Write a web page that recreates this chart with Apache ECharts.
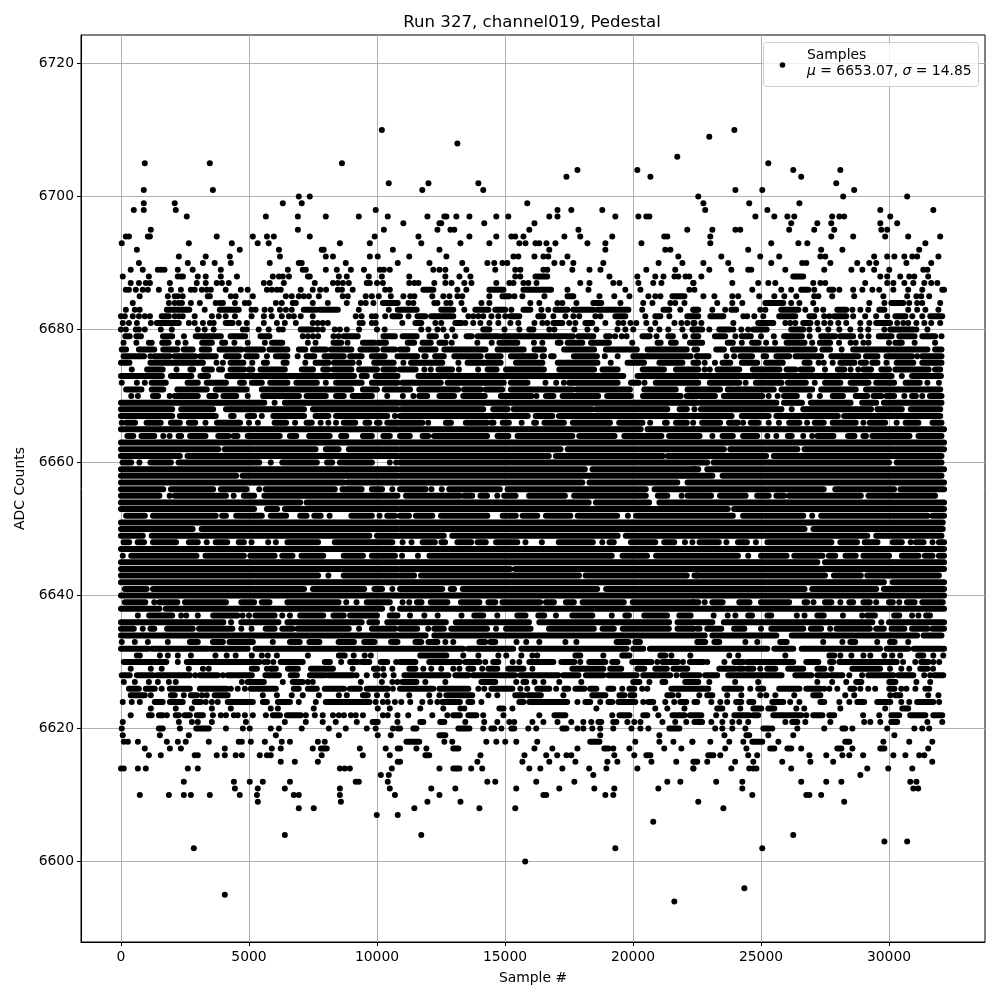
<!DOCTYPE html>
<html>
<head>
<meta charset="utf-8">
<style>html,body{margin:0;background:#fff}#chart{width:1000px;height:1000px}</style>
<script src="https://cdn.jsdelivr.net/npm/echarts@6/dist/echarts.min.js"></script>
</head>
<body>
<div id="chart"></div>
<script>
// axis ticks
const xTicks = [0, 5000, 10000, 15000, 20000, 25000, 30000];
const yTicks = [6600, 6620, 6640, 6660, 6680, 6700, 6720];

// samples, one list per ADC level
// a plain number is one sample, [a, b] is a stretch of touching samples
const upperLevels = [6710,6709,6708,6706,6705,6704,6703,6702,6701,6700,6699,6698,6697,6696,6695,6694,6693,6692,6691,6690,6689,6688,6687,6686,6685,6684,6683,6682,6681,6680];
const upperSamples = [
  [10190,23960],
  [22980],
  [13140],
  [21730],
  [930,3470,8630,25285],
  [17830,20170,26260,28100],
  [17400,20680,26570],
  [10460,12010,13960,27940],
  [890,3590,11770,14150,24000,25050,28640],
  [6945,7375,22550,28210,30710],
  [890,2100,6320,7060,15870,22750,24540,26500],
  [500,890,2140,9950,17050,17590,18800,22820,25250,29660,31730],
  [2570,5660,6910,8000,9290,10420,11970,12630,12710,13100,13610,14660,15130,16730,17050,19310,20210,20520,20640,24780,25520,26030,26300,27780,28060,28250,30050],
  [11030,12440,12510,14190,16150,26180,27200,27745,29660,30320],
  [1165,6910,10270,12360,12870,13020,15950,17870,22120,23100,24000,24190,26100,27080,27860,29700,29930],
  [190,310,1050,1130,3740,5150,5700,5970,7375,9910,11620,13610,14660,15250,15400,15720,17320,17940,19190,21220,21340,23020,27745,28600,29850,30750,32000],
  [30,2650,4330,5340,5770,8550,9720,11730,13260,14390,15560,15800,16190,16340,16620,16970,18220,18920,20330,23020,25400,26460,26810,31420],
  [620,4640,6170,7840,7920,10620,12440,16730,18920,21260,21460,24500,27350,28180,31180],
  [2260,3310,4250,6210,8000,8280,9720,10030,11260,12710,15330,15520,16150,16500,16690,17440,21770,23450,24970,25710,27320,27510,29420,29930,30210,30600,30910,31100,31930],
  [700,2610,3200,3660,4290,5810,6945,7060,8780,10810,12050,13330,14310,14580,14900,15090,16930,17240,17670,18840,21000,21930,22750,23720,25400,26610,26770,27710,28760,29230,29500,30680,31650],
  [380,850,1440,1570,1700,2220,2800,3900,6520,7100,7220,8000,8430,8980,9490,10110,10270,10500,12200,12440,12670,13490,14620,15400,15600,16500,16650,17630,18300,18730,20520,21650,22980,23840,24500,24620,25950,27470,28530,28960,29420,30010,31340,31500],
  [70,1090,2220,2340,2420,3000,3310,3900,4530,5930,6170,6320,6560,7300,7375,8510,8820,9680,10190,11260,12670,13220,13650,15400,15600,[16190,16650],19080,20170,20870,21190,21620,21770,22050,22200,22670,[26260,26650],29660,29930,30440,30790,30990,31530],
  [380,700,970,1130,1910,2960,3310,3740,3940,4210,5580,5810,6360,7570,8280,8470,8670,8900,9600,9720,10000,10230,11260,11460,11620,12240,12670,12910,13410,13690,14660,15170,15330,15720,15910,16230,17940,18300,19230,19470,20210,20790,21110,22360,22355,23880,24890,25285,25560,27040,27320,27510,29070,29930,30170,30600,30950,31380,31650,31890],
  [190,310,580,850,1050,1480,1950,2340,2730,2880,3160,3350,3510,4090,4680,4950,5700,5890,6090,6240,7020,7490,7780,8010,8470,8630,9050,10320,10500,[11810,12200],13140,13490,[14390,14940],[15720,16800],17440,18260,19700,20290,22200,22400,24660,25790,26180,[26570,26850],27080,[27670,27820],28060,28600,28960,29350,29620,30170,30750,31300,32080,32150],
  [730,1830,2100,2220,2410,3390,3470,4290,4480,5150,6440,6670,6945,7140,7340,7730,8660,8860,9560,9800,10070,10540,11030,11300,11460,12160,12590,12830,13140,13330,14390,[14900,15170],15370,15680,16540,[17440,17670],18690,19270,19860,20600,20870,21070,[21540,22010],22750,23180,23880,24110,24930,25520,25910,26380,27080,27240,27780,28640,29780,30710,31070,31260,31570],
  [460,1870,2100,2260,2380,2730,3080,3700,3860,3980,4450,4840,4990,6050,6280,6710,6830,7490,8080,8820,9370,9560,9860,[10230,10810],11230,11420,12240,12360,12710,12870,13300,14080,14390,15990,16340,17050,17240,17790,[18450,18760],19510,20400,20760,21460,21650,22010,23290,23880,24270,[25170,25870],26180,26500,27040,29230,29820,[30090,30560],30790,31100,31300,32000],
  [190,540,730,[1790,2670],3270,[3860,4600],5100,5260,5610,5850,6210,6440,6670,[7140,7620],[7760,8470],9290,10460,10810,[10900,11550],[12510,12980],13410,[13840,14350],[14620,15010],15250,[15720,15990],16420,16690,[16970,17440],[17670,18450],[18610,19820],20360,[21190,21420],21850,[22360,22550],22355,22485,23100,23600,[23840,24030],24970,25170,[25790,26460],26730,27160,27430,[27980,28330],28570,28880,29190,[29620,29820],30750,31100,31420,31930],
  [0,150,460,700,930,1130,[1590,1870],2100,2260,2410,2880,3550,3820,4090,4450,5100,5580,5890,6280,6560,6750,7020,7490,9170,9400,9800,9950,10320,[10600,10900],11230,[11580,11890],[12120,12630],[12670,12980],13570,13760,13960,14150,14470,14740,15010,[15210,15560],[16300,16500],16890,17360,17670,17900,18530,18730,[19310,19700],20480,[20870,21070],21420,[22120,22550],[23020,23530],24310,24460,24740,25090,[25710,26340],[26890,27080],27470,27670,[27860,28330],28600,29070,29500,29930,[30250,30640],30910,31300,[31610,32080]],
  [70,310,620,1165,[1400,2260],2650,2880,3200,3470,3620,[4090,4360],4600,4910,5580,6090,6400,6830,7490,7680,7880,8080,9320,9440,9800,9950,10990,[11500,11730],12280,12510,[13060,13300],13450,13760,14040,14390,14740,15210,15520,16150,16460,16650,[16890,17240],17510,17750,[18140,18410],18920,19430,19620,19900,20130,20520,20870,21620,21890,22120,22400,22355,22670,23920,[24890,25480],25950,26140,26340,[26650,26930],27200,27470,27710,28020,28330,28880,29230,[29500,30040],30320,30560,30750,31070,31380,31650,32000],
  [0,190,580,700,930,1555,1985,3000,3270,3620,4760,4910,5380,5770,6170,6320,[7020,7490],7680,7880,8350,8550,8820,9300,10000,10300,11730,12010,12360,12590,12940,[14150,14390],14980,15560,[15950,16110],16730,16930,17710,18220,18570,19390,19700,20010,20680,21030,21380,21930,22360,[22320,22620],22700,22980,[23370,23790],23920,24230,24500,[24700,25220],[26180,26650],26890,27240,27630,28060,28490,28880,29190,29820,[30050,30950],31070,31500]
];

const bandLevels = [6679,6678,6677,6676,6675,6674,6673,6672,6671,6670,6669,6668,6667,6666,6665,6664,6663,6662,6661,6660,6659,6658,6657,6656,6655,6654,6653,6652,6651,6650,6649,6648,6647,6646,6645,6644,6643,6642,6641,6640,6639,6638,6637,6636,6635,6634,6633,6632,6631,6630,6629,6628];
const bandSamples = [
  [[170,340],[600,780],[1640,2000],2460,[2920,3900],[4280,4850],[5450,5800],7100,7300,7500,7700,8300,8500,[8700,9250],[10250,10700],[11000,11550],[12050,12300],12720,13050,[13500,13700],[13930,14750],[14900,17650],[17870,18450],[18950,19100],19300,19560,19750,[20370,20650],20920,[21380,21560],22030,[22360,22550],[23200,23600],24000,[24250,24600],25000,25500,[25900,26600],26900,[27350,27900],[28100,28600],28900,29200,[29600,30100],[30400,31000],[31300,31800],32050],
  [100,600,1090,1200,[1610,1860],2220,2520,[3170,3550],[3950,4070],4430,4950,5620,[5900,6300],7300,7600,[8300,8600],8850,[9450,9900],[10050,10350],[11200,11450],[11780,12100],[12440,12680],12920,13920,14480,[14780,15480],16130,16460,[17060,17170],[17450,18020],[18360,19060],19970,[20960,21080],[21480,21670],[22270,22450],[22225,22700],[23700,23900],24250,[24650,24900],25200,25550,[26000,26700],27000,[27300,27700],28050,28500,28700,29000,29200,30000,30250,[30350,30500],31000,31800],
  [[10900,11190],[11720,12290],[12630,14240],[14710,15730],[16150,16520],[17310,18480],[18940,20150],[20570,22100],22500,[30,200],[700,1300],[1650,2200],[2450,2800],[3150,3450],[3850,4700],[4900,5550],[5800,6500],[6950,7200],[7500,8000],[8200,9000],[9350,10000],[10250,10700],22400,[23250,23550],[23900,27100],[27400,27700],28150,[28600,31500],[31800,32050]],
  [[100,900],1150,[1300,1900],[2100,2900],[3100,3700],[4100,4600],[4900,5300],5700,[6050,6500],6900,[7250,7550],[7950,8700],[8950,9400],[9800,10300],10800,[10900,11570],[11850,11900],[12270,12610],[13020,14050],[14320,14830],[15230,16190],[16470,16520],[16800,16900],[17690,18590],18900,19400,[20010,22250],22500,[22500,22950],23650,23950,[24200,24650],[25100,25200],[25600,26100],[26350,27350],[27750,28800],[29100,29550],[29900,30900],31100,[31300,32050]],
  [[0,330],[1150,3200],3730,3980,[4280,4780],5130,[5580,5700],[6350,6470],7200,[7600,8100],[8320,9050],9300,[9890,10650],11030,[11330,12550],13180,[13540,14830],[15430,16460],[17060,18610],19130,[19790,20430],[21030,21930],[22360,22550],22500,22800,23200,[23500,23800],[24250,24850],[25200,25850],[26700,26900],27250,27450,27800,[28100,28650],[28900,29100],[29350,29550],29900,[30300,30950],[31300,32050]],
  [420,[1020,1630],2170,[2710,2820],[3250,3550],[3830,3950],[4280,4800],[5000,5130],[5450,6400],[7060,7500],[7900,8100],[8300,9000],[9300,10000],[10250,10700],[10900,11510],11850,12100,[12400,12930],13200,13950,[14320,14670],[15040,16520],[17120,18480],[18810,19400],[20380,21210],[21680,22550],[22225,22500],22800,23000,[23300,24150],[24680,25720],[26000,26350],[26550,27000],27500,[28000,28250],28500,28800,[29000,29300],[29700,30000],[30250,31550],[31800,32000]],
  [[0,1600],[1950,2750],[3100,3400],[4150,9100],[9400,9600],[9950,10800],[11620,19620],[20180,22550],[22225,30100],30500,[30900,32030]],
  [30,620,930,[1200,1750],[2600,3000],[3350,4100],[4650,4800],[5120,5500],[5830,6500],[6850,7650],8000,[8400,9400],[9800,10800],[10990,12490],[12760,14950],[15230,15880],16580,17000,17300,[17510,19400],[19920,20220],20450,[20890,22550],[22225,22500],[23000,24150],24400,[24800,25800],[26050,26750],27100,[27500,28100],[28500,29200],[29500,30200],[30650,31200],31500,31950],
  [[200,800],[1200,1650],[2200,3350],[3700,4900],[5500,9000],[9450,10000],[10300,10800],[10900,11290],[11650,13170],[13400,14050],[14250,14890],[15230,17640],[17790,19880],[20440,21670],[22130,22550],[22225,23400],[23700,23900],[24000,25500],[25800,27000],[27350,28700],[29100,32000]],
  [400,660,[1250,1450],1900,[2100,3000],[3450,3700],[4000,4500],4950,[5550,6950],[7250,8000],[8400,8700],[9050,9800],10400,11010,11420,[11650,11960],[12440,13010],[13370,14210],[14840,16040],16230,[16600,16890],[17250,18640],[18990,19910],[20390,21860],[22100,22550],[22225,23200],[23550,25050],25300,25650,[25900,26400],26900,27300,[27800,28200],[28700,29150],[29400,29700],[29900,30200],30600,[30900,31050],31300,[31600,32050]],
  [[0,5600],6000,[6400,10800],[10900,22500],22350,[22650,25600],[25900,26600],[26950,28500],[28950,29500],[29800,32050]],
  [[0,2000],[2350,3600],[4100,7150],[7500,10800],[10950,14150],[14540,15100],[15340,18400],[18550,21340],[21820,22100],22400,[22650,25800],26200,[26650,29300],[29550,30500],[30850,32000]],
  [[0,2000],[2300,3700],[4300,4400],[4950,5200],5500,[5950,7150],[7600,8100],[8400,10400],10700,[10900,15890],[16200,16850],[17110,22550],[22225,23850],[24250,25300],[25600,28000],[28250,32000]],
  [30,[200,550],[1000,1550],[1950,2300],[2650,2900],3300,[3750,4650],5000,5350,[6000,6450],6800,[7250,7450],7800,8100,8400,[8700,9150],[9550,9700],[10000,10100],[10400,10800],[10900,11770],12000,[12690,12890],[13470,14300],[14480,14550],[14910,15150],15650,[16140,16210],[16540,17300],[17650,19100],[19460,20370],20670,[21250,21320],[21680,22100],22350,[22700,23400],[23750,24100],24300,[24600,24900],25300,25700,[26100,26500],26800,[27100,27450],[27800,28700],29000,[29250,29850],30300,[30650,31150],[31700,32050]],
  [[0,10800],[10900,20300],[20570,32150]],
  [[250,480],[800,1300],1650,1900,[2250,2350],[2700,3300],[3800,4200],[4400,4550],[4950,6200],[6600,6850],[7350,8150],[8600,8800],[9450,9800],[10250,10500],[10900,11280],[11780,12000],[12230,14300],[14710,15130],[15490,17630],[17900,19280],[19660,21110],[21410,22550],[22225,22600],23100,[23500,23900],[24300,24850],25250,25600,[26050,26200],26650,27000,[27200,27830],[28400,28650],[29000,29100],[29350,30800],[31150,32050]],
  [[0,10800],[10900,22550],[22225,32150]],
  [[0,3800],[4050,7600],[8000,8500],[8900,10800],[10900,17170],[17450,22550],[22225,23550],[23800,26420],[26700,32150]],
  [[0,2300],[2600,10800],[10900,16710],[16990,21170],[21360,22550],[22225,25200],[25500,32050]],
  [[60,400],720,[1150,1950],[2250,5400],5850,[6300,7650],[8050,8250],[8550,9800],10500,10750,[10900,22550],[22225,22900],[23150,30000],[30300,32050]],
  [[0,10800],[10900,18120],[18420,22550],22400,[22900,32150]],
  [[0,4500],[4750,10800],[10900,22550],[22225,23100],[23500,32050]],
  [[0,8700],[8850,10800],[10900,18020],[18300,21730],[22130,22550],[22225,32150]],
  [[0,1650],[1950,3600],[3900,4900],5400,[5650,8350],[8650,9400],[9800,10200],10600,[10900,11900],12130,12530,[12820,14800],[15100,20500],[20840,22550],[22225,27450],[27900,30200],[30450,32150]],
  [[0,1500],1900,[2100,4100],4400,[4800,5200],[5600,10800],[11130,13230],[13400,13720],[14040,14300],14700,[14970,15410],[15940,17340],[17700,20500],[20970,21340],21900,[22130,22550],[22450,23050],[23400,24400],[24850,25300],[25600,25900],[26100,28900],[29200,31800]],
  [[0,7000],[7250,10800],[10900,18270],[18550,20630],[21030,22550],[22225,32150]],
  [[0,5200],[5700,6100],[6400,10800],[10900,22550],[22225,23700],[23950,32150]],
  [[200,930],[1250,3700],[3950,4100],[4500,5500],[5850,6450],[7000,7250],[7550,7800],8150,[9000,9800],10100,[10400,10700],[10900,11250],[11520,12160],[12500,14310],[14910,15420],[15690,16260],[16600,17550],[17840,19380],19800,[20120,22550],[22225,23900],[24300,26650],27000,[27350,31500],[31700,32150]],
  [[0,10800],[10900,22550],[22225,32100]],
  [[0,2800],[3150,10800],[10900,22550],[22225,26700],[27050,32100]],
  [[0,850],[1200,9700],[10000,10800],[10900,12610],[12940,19400],[19720,22550],[22225,29150],[29500,32050]],
  [[100,320],[650,900],[1250,2150],[2650,3000],3350,[3700,4150],[4600,4800],5100,5750,6050,[6500,7700],[8350,10600],11000,11350,[11780,12260],[12520,12660],[13140,13680],[13930,14250],[14650,15480],15800,16440,[17100,18430],18800,[19080,19250],[19920,20870],[21220,21610],22030,22320,[22600,23350],23650,[24100,24450],24800,[25250,27750],[28100,28750],[29050,29550],[30150,30500],30850,[31050,31350],31700,[31950,32150]],
  [[0,10800],[10900,22550],[22225,32150]],
  [70,[400,2950],[3300,4800],[5050,6000],[6300,6700],[7050,7900],[8700,9450],[9800,10700],10980,11600,[12050,19170],[19590,20550],[20900,22550],[22225,24100],24500,[25000,26000],[26300,27400],[27650,27900],[28300,28700],[29000,30000],[30500,31150],[31400,31700],[31950,32150]],
  [[0,10800],[10900,22550],[22225,27200],[27500,32150]],
  [[0,10800],[10900,15200],[15400,22550],[22225,32150]],
  [[0,7700],8100,[8700,10800],[10900,11450],[11720,17890],[18150,22100],22500,[22400,27500],[27850,28900],[29150,31950]],
  [[0,10800],[10900,22550],[22225,29800],[30150,32150]],
  [[150,1000],[1250,7150],[7500,9500],[9900,10200],10600,[10900,12550],[12880,13010],[13350,18600],[18950,22550],[22225,26700],[27000,29500],[29800,32150]],
  [[0,10800],[10900,22550],[22225,32150]],
  [[150,950],1300,[1500,2200],[2500,4100],[4700,5200],[5500,5800],[6500,8500],8800,9200,[9600,10500],11000,11260,[11560,11740],[12100,12750],[13280,14000],[14350,14620],[14900,16370],[16600,16910],[17380,17690],[18030,19640],[19990,22550],22350,22800,[23100,23500],[24150,24550],[25000,26100],[26700,26800],27050,[27500,27750],28100,[28450,28600],[29000,29250],29500,[30000,30150],30400,[30700,31000],[31300,32100]],
  [[0,1500],[1750,10200],10600,[10900,22550],[22225,32150]],
  [660,[1100,2000],2350,2550,3000,[3600,4550],4750,5000,[5250,6000],6300,6600,[7000,7900],[8300,8700],[8950,10000],[10500,10800],11290,11850,12370,13300,[13800,14150],14700,[15480,15800],[16300,16530],16990,[17630,18410],19170,[19700,19840],[20440,21330],[21810,22250],23150,23700,24000,[24500,24650],[25250,25400],26400,26700,[27200,27450],28200,28950,[29150,29450],[30200,30400],30900,31150,[31450,31600]],
  [[0,4000],4300,[4700,5000],[5000,6150],[6500,9400],[9700,10000],[10400,10800],[10900,12690],[13080,15940],[16340,21410],[21740,22550],[22225,23100],[23550,29350],29700,[30000,32150]],
  [[0,500],850,[1150,1300],[1800,2800],[3050,4350],4700,5100,[5650,6000],[6300,6700],[6900,8900],9300,[9800,10700],[10900,11570],12000,[12240,12610],[12900,14300],14650,[15040,16000],[16720,18470],[18810,19250],[19600,21400],[21740,22300],22500,22350,22600,[22900,23450],[23950,24350],25000,[25400,26650],[26950,27350],27700,[27950,29250],[29500,29800],[30100,30600],[30900,31500],[31700,32150]],
  [[0,10800],[10900,11900],[12240,22550],[22225,22800],[23100,25600],[26200,31100],[31350,32050]],
  [30,540,1050,1830,[2690,3000],[3590,3980],[4240,5150],5930,[6600,6980],[7360,7750],[8500,9100],[9500,9900],[10550,10800],[11500,11730],[12010,12360],12670,12980,[14000,14230],[14430,14620],15450,15830,16340,17360,17790,[19360,19820],[20090,20270],22550,[22510,22820],[23180,23370],24390,24855,[25750,26000],27430,28180,[28490,28680],29540,[30040,30220],30750],
  [[0,1050],[1200,3390],[3520,4950],[5250,10800],[10900,13370],[13570,15320],[15640,19100],[19170,19750],[20010,20400],[20660,22550],[22355,25245],[25520,26260],[26590,29650],[29910,30750],[30970,32060],32150],
  [620,735,1520,1830,2220,2730,3690,4130,4480,5110,5500,5735,6090,7300,[8510,8740],9090,9520,9760,[11690,12710],13370,13960,14740,15050,15640,16070,16260,[17750,17940],18840,[19580,19860],[21070,21260],21500,22240,23760,24110,25950,[27670,27860],28100,28530,29000,29270,29820,30130,30440,[31140,31340],31730,32120],
  [[110,1770],2220,[2570,5410],5600,5730,5950,[6240,7100],[7960,8160],8600,[8950,9250],[9400,9700],[10150,10400],10750,[10900,11500],[12040,13240],[13450,14000],14230,[14540,14740],15300,15560,[15950,16890],[17200,17710],17940,[18290,18920],[19190,19390],[19970,20720],20950,[21150,21750],21950,[22360,22550],[22225,22750],22900,23570,[23960,24310],[24460,26260],[26770,27240],[27700,27820],[28060,28970],[29050,30300],30550,31025,[31260,31540],31730,31960],
  [380,1165,1590,2650,3200,3430,[5110,5310],5700,5850,[5890,6050],[6520,6910],[7420,8280],9050,[9880,10030],10240,10600,[11260,11500],11810,12120,12510,12980,13220,[13570,13760],14110,[14350,14700],[15130,15720],16070,[17630,18840],[19110,19540],[20170,20440],[20870,21320],[21580,22120],[23370,23980],[24110,24300],[24460,24700],24970,[25245,25560],[26060,26650],[27200,27470],27745,[28570,29650],30040,30480,30790,[31220,31500],31720],
  [[30,340],[620,1245],[1400,2690],2900,[3080,3780],3980,[4170,5110],[5640,6170],[6630,6870],[7380,7960],[8080,9050],9200,9600,[9950,10030],10270,10650,[11070,12790],[13060,13570],[13760,15390],[15600,17080],[17280,17870],[18160,18840],[19040,20140],[20400,21450],21700,[21930,22550],[22225,22590],[22820,23290],[23720,25805],[26340,26965],[27200,27590],[27750,28180],28450,28950,[29190,30170],[30360,30950],31375,31610,[31770,32120]]
];

const lowerLevels = [6627,6626,6625,6624,6623,6622,6621,6620,6619,6618,6617,6616,6615,6614,6613,6612,6611,6610,6609,6608,6607,6606,6604,6603,6602,6600,6596,6595,6594];
const lowerSamples = [
  [110,540,1090,1440,1870,2140,4720,[4950,5580],6320,[6710,7100],7300,7490,9370,10190,10600,10800,[10990,11540],11890,12670,[14080,14620],15440,[15720,15830],16150,16500,17120,17980,[20010,20250],20640,[21150,21260],[22040,22550],[22355,22510],22980,23990,24890,27200,27780,28330,[28720,28920],[30010,30250],31070,31610],
  [[310,700],[970,1320],1590,[1910,2690],[3080,4130],4290,4560,4840,[5070,6050],[6750,6945],[7300,7650],[7960,8710],[8940,9330],[9600,10420],10620,[10900,12200],[12440,13570],13960,14190,[14470,15290],15600,15870,[16260,16730],17000,[17320,17470],[17750,18100],[18330,18570],[19040,19230],19580,[19860,20050],20360,20560,[21500,22550],[22355,22940],[23570,24230],24580,[24890,25090],[25710,26500],[26770,27320],27470,27670,27980,[28490,28640],28880,29190,29460,[30010,30210],30480,30680,31030,31420,31570],
  [[380,930],1165,[1950,2100],2455,[2730,2960],3160,3350,[3660,4170],5540,6090,6670,7100,7730,8510,8820,[9450,9640],10000,10390,11260,12040,12440,[12710,13720],14350,14700,[15400,15720],[15910,16400],17280,[18410,18920],[19470,19660],[19900,20050],[21340,21540],21770,22590,[22900,23100],23680,24230,24970,25205,25560,26300,[27040,27320],28290,28640,30050,[30250,30440],31530,31930],
  [70,420,735,[1320,1630],[1910,2410],[2880,3120],3310,3550,3780,[4170,5150],[5540,5700],[6130,6600],6945,7610,[8000,9710],9950,10230,10420,10700,10950,11300,11770,12080,12360,[12550,13240],[13570,13720],14080,[15560,15720],[15950,17430],17830,[18140,18330],18720,[19040,19190],[19430,20090],20400,[20600,20790],21260,21610,[21850,22080],22400,22510,23060,23410,23680,[24030,24230],[24540,24700],[25440,25870],26140,26500,[27320,27470],28060,28450,[28760,29030],[29540,30050],30480,30790,[31100,31730],31960],
  [1165,2140,2770,3550,4290,5850,6130,7530,10030,10500,11690,12590,13260,13410,[14780,14940],15290,18570,20870,21340,22010,[23290,23490],24190,[24700,25010],[25285,25520],26380,26690,28100,29850,[30520,30750]],
  [380,[1090,1200],[1480,1630],1790,[2140,2260],[2490,2690],[2960,3200],3590,3900,4100,4410,4560,4840,5150,5660,[5930,6210],[6480,7020],7220,7570,7880,8280,8510,8710,8980,9170,9450,10230,10420,10800,11220,12160,12750,[12980,13240],[13570,13880],14150,14940,16340,[16930,17360],19190,[19470,19860],[20400,20560],20990,[21540,22010],[22280,22550],[22225,22670],23250,23600,[23960,24540],[24700,24890],[25480,26570],26770,[27040,27400],[27670,27860],28990,29620,[30090,30400],[30830,31420],[31730,32080]],
  [70,2260,2770,3000,3550,4880,6400,7220,7880,8390,9210,[9830,10030],10800,[11690,11810],[12470,12630],13450,14190,14700,15170,15360,16070,16500,17050,17590,18060,18370,[18650,18760],19230,19350,19780,20050,20290,21150,21650,22080,22400,[22510,22700],23060,23490,23880,24150,24500,25950,[26220,26420],26730,27710,29030,29270,29660,[30090,30320],31500,32080],
  [30,[1480,1630],2300,[2940,3430],4100,4760,5030,5850,6170,7060,8120,8780,9600,9950,10620,10810,10900,[11420,11540],[13180,13610],14150,[14470,14580],14860,[15250,15360],15910,16220,[17240,17400],17830,18060,18410,18720,19230,19940,20290,20600,[21420,21810],23210,23490,23880,24390,[25090,25320],25440,26420,27470,[28180,28290],28570,29930,30990,31300,31570],
  [70,1520,2650,6050,8510,10030,10540,[12440,12670],18720,21030,23570,[24430,24540],25285,26260,30210],
  [110,270,660,1790,2220,2530,3430,4600,4720,5070,5620,6280,6600,7690,7960,[11150,11650],12630,12940,14270,14660,15010,15440,16260,[18330,18690],20090,21030,21580,22320,22320,23020,23760,24310,[24660,25050],25680,[28290,28450],29780,30790,31690],
  [930,1910,2340,4055,5890,6240,7490,[7810,8040],9330,10340,10810,10900,11540,11930,[12980,13180],16150,16850,17830,[18880,19040],19230,19860,21220,21890,23600,24430,[25360,25520],[26030,26180],26570,[27980,28140],28570,[29660,29820],31530],
  [1090,1555,2880,3000,3740,4055,4480,4720,5420,5700,5850,7840,9445,10500,[11890,12040],14040,15760,16610,17040,17400,17590,19270,20050,[20520,20680],[22940,23140],23410,24500,24850,26890,27550,28180,28450,28990,30170,30640,31180,31380],
  [6240,6790,7690,10810,10900,13920,15680,16730,17750,19000,19390,20720,21690,[22360,22510],22900,23990,24700,25830,26930,27820,31690],
  [0,110,660,970,2610,3000,8550,8740,8940,10580,12440,[12980,13220],13680,14110,15950,16380,17240,18290,18960,20170,22360,22355,23840,24540,24700,24820,26180,29150,29970,30910],
  [10150,10460,18450,28880],
  [2455,4410,5030,5540,6600,9170,9290,10420,14310,14620,16220,17710,21340,21850,23250,24270,26570,27550,28140,30830,31070],
  [4450,5345,6400,8550,10500,12120,13060,15440,17120,18490,19270,20990,24270,30950,31140],
  [735,1870,2455,2730,3470,4640,5310,6750,6945,8550,10700,12440,16500,16610,18920,19230,24660,26770,26890,27350],
  [5345,8590,11970,13260,22550,28250],
  [6945,7530,11460,14000,15400,23530],
  [9990,10810],
  [20790],
  [6400,11730,26260],
  [29820,30710],
  [2845,19310,25050],
  [15790],
  [24350],
  [4055],
  [21615]
];

// flatten rows into single samples and stretches, NaN breaks the line between stretches
const dots = [];
const stretches = [];
function addRows(levels, rows) {
  levels.forEach(function (level, i) {
    rows[i].forEach(function (s) {
      if (Array.isArray(s)) {
        stretches.push([s[0], level], [s[1], level], [NaN, NaN]);
      } else {
        dots.push([s, level]);
      }
    });
  });
}
addRows(upperLevels, upperSamples);
addRows(bandLevels, bandSamples);
addRows(lowerLevels, lowerSamples);

const myChart = echarts.init(document.getElementById('chart'), null, {renderer: 'canvas'});
const font = 'DejaVu Sans';
const gridGrey = '#b0b0b0';
const plainNumber = function (v) { return String(v); };

myChart.setOption({
  animation: false,
  backgroundColor: '#fff',
  textStyle: {fontFamily: font},
  title: {
    text: 'Run 327, channel019, Pedestal',
    left: 527,
    top: 9,
    textAlign: 'center',
    textStyle: {fontFamily: font, fontSize: 16.6, fontWeight: 'normal', color: '#000'}
  },
  grid: {left: 81, right: 15, top: 35, bottom: 58, show: true, borderColor: '#000', borderWidth: 1, backgroundColor: 'transparent'},
  xAxis: {
    type: 'value',
    min: -1562,
    max: 33750,
    name: 'Sample #',
    nameLocation: 'middle',
    nameGap: 29,
    nameTextStyle: {fontFamily: font, fontSize: 13.9, color: '#000'},
    axisLine: {show: true, onZero: false, lineStyle: {color: '#000', width: 1}},
    axisTick: {show: true, length: 4, customValues: xTicks, lineStyle: {color: '#000', width: 1}},
    axisLabel: {show: true, customValues: xTicks, formatter: plainNumber, color: '#000', fontSize: 13.9, fontFamily: font, margin: 8},
    splitLine: {show: true, lineStyle: {color: gridGrey, width: 1}}
  },
  yAxis: {
    type: 'value',
    min: 6587.9,
    max: 6724.3,
    name: 'ADC Counts',
    nameLocation: 'middle',
    nameGap: 52,
    nameTextStyle: {fontFamily: font, fontSize: 13.9, color: '#000'},
    axisLine: {show: true, onZero: false, lineStyle: {color: '#000', width: 1}},
    axisTick: {show: true, length: 4, customValues: yTicks, lineStyle: {color: '#000', width: 1}},
    axisLabel: {show: true, customValues: yTicks, formatter: plainNumber, color: '#000', fontSize: 13.9, fontFamily: font, margin: 7},
    splitLine: {show: true, lineStyle: {color: gridGrey, width: 1}}
  },
  series: [
    {
      name: 'Samples runs',
      type: 'line',
      data: stretches,
      showSymbol: false,
      symbol: 'none',
      connectNulls: false,
      silent: true,
      lineStyle: {color: '#000', width: 6, cap: 'round', join: 'round'}
    },
    {
      name: 'Samples',
      type: 'scatter',
      data: dots,
      symbol: 'circle',
      symbolSize: 6,
      silent: true,
      itemStyle: {color: '#000', opacity: 1}
    }
  ],
  graphic: [
    {type: 'rect', z: 100, shape: {x: 763.5, y: 42.5, width: 215, height: 44, r: 3}, style: {fill: 'rgba(255,255,255,0.8)', stroke: '#ccc', lineWidth: 1}},
    {type: 'circle', z: 101, shape: {cx: 782.5, cy: 65, r: 2.8}, style: {fill: '#000'}},
    {type: 'text', z: 101, x: 807, y: 48, style: {text: 'Samples', fill: '#000', font: '13.9px "DejaVu Sans"'}},
    {type: 'text', z: 101, x: 807, y: 64, style: {
      text: '{i|μ} = 6653.07, {i|σ} = 14.85',
      fill: '#000',
      font: '13.9px "DejaVu Sans"',
      rich: {i: {fontStyle: 'italic', fontFamily: font, fontSize: 13.9}}
    }}
  ]
});
</script>
</body>
</html>
